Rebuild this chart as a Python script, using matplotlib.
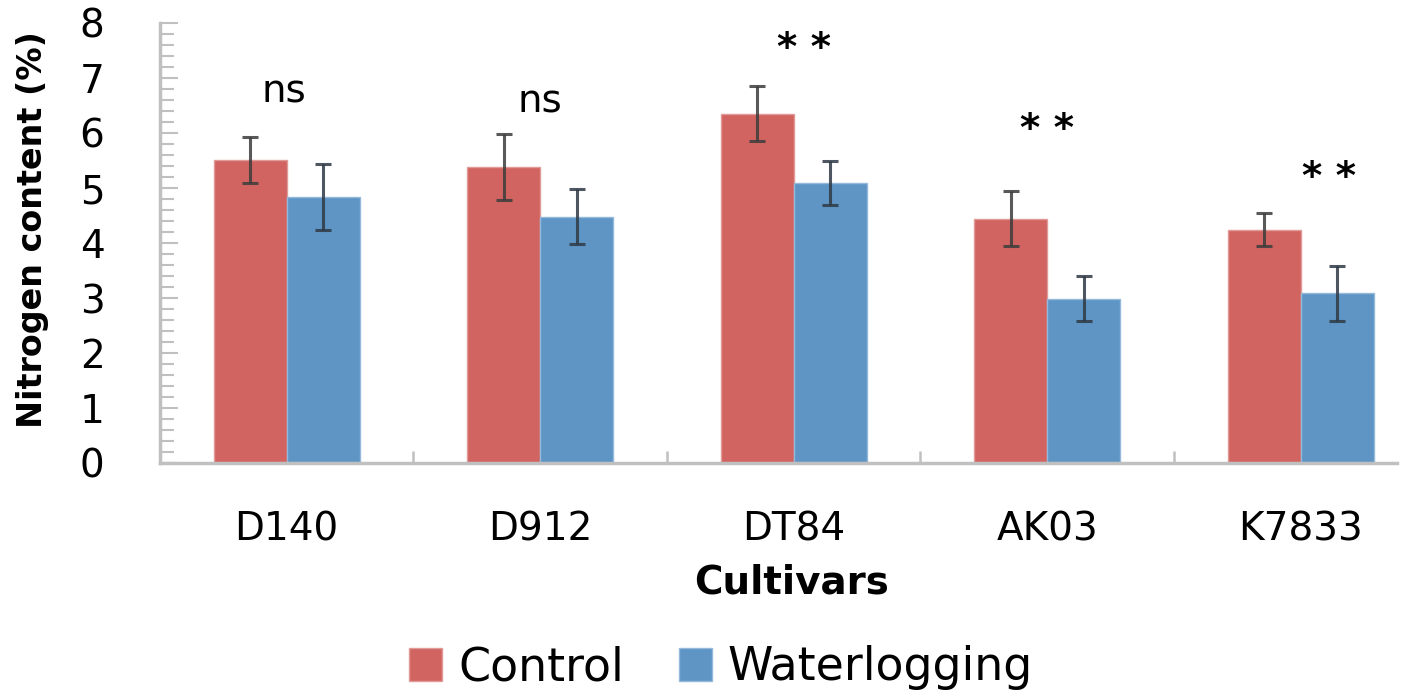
import matplotlib.pyplot as plt
import numpy as np
from matplotlib.ticker import MultipleLocator, FixedLocator

cultivars = ['D140', 'D912', 'DT84', 'AK03', 'K7833']
control = [5.51, 5.39, 6.35, 4.44, 4.24]
control_err = [0.42, 0.60, 0.50, 0.50, 0.30]
waterlog = [4.84, 4.48, 5.09, 2.99, 3.09]
waterlog_err = [0.60, 0.50, 0.40, 0.41, 0.50]
signif = ['ns', 'ns', '* *', '* *', '* *']
signif_y = [6.76, 6.58, 7.52, 6.06, 5.18]
signif_dx = [-0.01, 0.0, 0.04, 0.0, 0.11]
signif_bold = [False, False, True, True, True]

red = '#d16460'
blue = '#5e95c4'
grey = '#c0c0c0'

plt.rcParams['font.family'] = ['DejaVu Sans']

fig = plt.figure(figsize=(14.05, 6.94), dpi=100)
ax = fig.add_axes([160 / 1405, 1 - 463 / 694, (1397 - 160) / 1405, (463 - 23) / 694])

x = np.arange(len(cultivars))
w = 0.288
ax.bar(x - w / 2, control, w, color=red, edgecolor='#e09a97', linewidth=1, label='Control', zorder=2)
ax.bar(x + w / 2, waterlog, w, color=blue, edgecolor='#94b9da', linewidth=1, label='Waterlogging', zorder=2)
ax.errorbar(x - w / 2, control, yerr=control_err, fmt='none', ecolor='#3c3c3c',
            elinewidth=2.2, capsize=6, capthick=2.2, alpha=0.85, zorder=3)
ax.errorbar(x + w / 2, waterlog, yerr=waterlog_err, fmt='none', ecolor='#2f3a45',
            elinewidth=2.2, capsize=6, capthick=2.2, alpha=0.85, zorder=3)

for i, (s, yy) in enumerate(zip(signif, signif_y)):
    ax.text(i + signif_dx[i], yy, s, ha='center', va='center', fontsize=28, color='black',
            fontweight='bold' if signif_bold[i] else 'normal')

ax.set_xlim(-0.5, 4.38)
ax.set_ylim(0, 8)

ax.yaxis.set_major_locator(MultipleLocator(1))
ax.yaxis.set_minor_locator(MultipleLocator(0.2))
ax.tick_params(axis='y', which='major', direction='in', length=13, width=1.5, color=grey,
               labelsize=28, pad=40)
ax.tick_params(axis='y', which='minor', direction='in', length=10, width=1.5, color=grey)

ax.set_xticks(x)
ax.set_xticklabels(cultivars)
ax.xaxis.set_minor_locator(FixedLocator([0.5, 1.5, 2.5, 3.5]))
ax.tick_params(axis='x', which='major', length=0, labelsize=28, pad=34)
ax.tick_params(axis='x', which='minor', direction='in', length=9, width=1.8, color=grey)

for side in ['top', 'right']:
    ax.spines[side].set_visible(False)
for side in ['left', 'bottom']:
    ax.spines[side].set_color(grey)
    ax.spines[side].set_linewidth(2.5)

fig.text(33 / 1405, 1 - 230 / 694, 'Nitrogen content (%)', rotation=90, ha='center', va='center',
         fontsize=24, fontweight='bold')
fig.text(792 / 1405, 1 - 583 / 694, 'Cultivars', ha='center', va='center',
         fontsize=28, fontweight='bold')

fig.legend(loc='center', bbox_to_anchor=(721 / 1405, 1 - 668 / 694), ncol=2, frameon=False,
           fontsize=33, handlelength=0.72, handleheight=0.72, handletextpad=0.35,
           columnspacing=1.2)

fig.savefig('out.png', dpi=100)
